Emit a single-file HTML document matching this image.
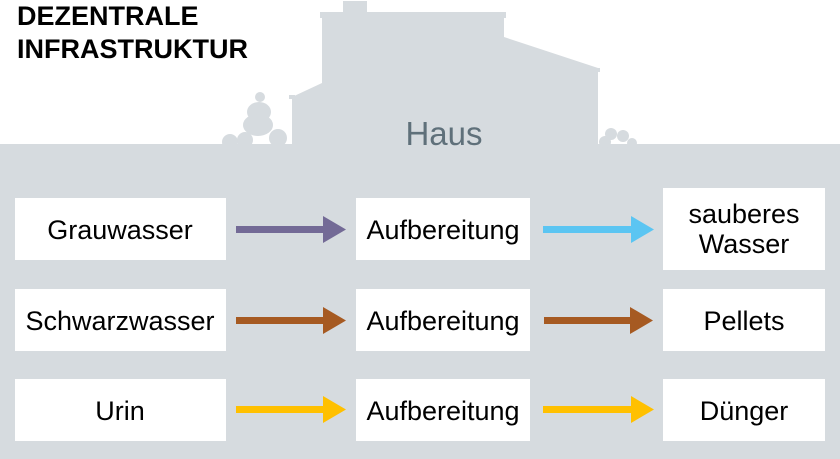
<!DOCTYPE html>
<html><head><meta charset="utf-8"><style>
html,body{margin:0;padding:0;background:#fff;width:840px;height:459px;overflow:hidden}
svg{display:block}
text{font-family:"Liberation Sans",Arial,sans-serif}
</style></head><body>
<svg width="840" height="459" viewBox="0 0 840 459" xmlns="http://www.w3.org/2000/svg">
<g fill="#d6dbdf">
<rect x="0" y="144" width="840" height="315"/>
<rect x="343" y="1" width="24" height="13"/>
<rect x="320" y="12" width="186" height="6"/>
<polygon points="322,16 504,16 504,37 598,68 598,146 292,146 292,97 322,83"/>
<rect x="289" y="95" width="6" height="4"/>
<rect x="594" y="68" width="6" height="4"/>
<circle cx="260" cy="97" r="5"/>
<ellipse cx="259" cy="112" rx="12" ry="10"/>
<ellipse cx="258" cy="125" rx="15" ry="11"/>
<circle cx="230" cy="142" r="8"/>
<circle cx="245" cy="140" r="8"/>
<circle cx="278" cy="138" r="9"/>
<circle cx="611" cy="134" r="6"/>
<circle cx="623" cy="136" r="6"/>
<circle cx="605" cy="142" r="6"/>
<circle cx="632" cy="143" r="5"/>
</g>
<text x="17" y="25" font-size="27" font-weight="bold" fill="#000">DEZENTRALE</text>
<text x="17" y="58" font-size="27" font-weight="bold" fill="#000">INFRASTRUKTUR</text>
<text x="444" y="145" font-size="33" fill="#5f707a" text-anchor="middle">Haus</text>
<g fill="#fff">
<rect x="15" y="198" width="211" height="62"/>
<rect x="15" y="289" width="211" height="62"/>
<rect x="15" y="379" width="211" height="62"/>
<rect x="356" y="198" width="174" height="62"/>
<rect x="356" y="289" width="174" height="62"/>
<rect x="356" y="379" width="174" height="62"/>
<rect x="663" y="188" width="162" height="82"/>
<rect x="663" y="289" width="162" height="62"/>
<rect x="663" y="379" width="162" height="62"/>
</g>
<g font-size="27" fill="#000" text-anchor="middle">
<text x="120" y="239">Grauwasser</text>
<text x="120" y="330">Schwarzwasser</text>
<text x="120" y="420">Urin</text>
<text x="443" y="239">Aufbereitung</text>
<text x="443" y="330">Aufbereitung</text>
<text x="443" y="420">Aufbereitung</text>
<text x="744" y="223">sauberes</text>
<text x="744" y="253">Wasser</text>
<text x="744" y="330">Pellets</text>
<text x="744" y="420">Dünger</text>
</g>
<g>
<polygon fill="#736a96" points="236,226 323,226 323,216 346,229.5 323,243 323,233 236,233"/>
<polygon fill="#a65a22" points="236,317 323,317 323,307 346,320.5 323,334 323,324 236,324"/>
<polygon fill="#ffc000" points="236,406 323,406 323,396 346,409.5 323,423 323,413 236,413"/>
<polygon fill="#5bc5f2" points="543,226 631,226 631,216 654,229.5 631,243 631,233 543,233"/>
<polygon fill="#a65a22" points="544,317 630,317 630,307 653,320.5 630,334 630,324 544,324"/>
<polygon fill="#ffc000" points="543,406 631,406 631,396 654,409.5 631,423 631,413 543,413"/>
</g>
</svg>
</body></html>
